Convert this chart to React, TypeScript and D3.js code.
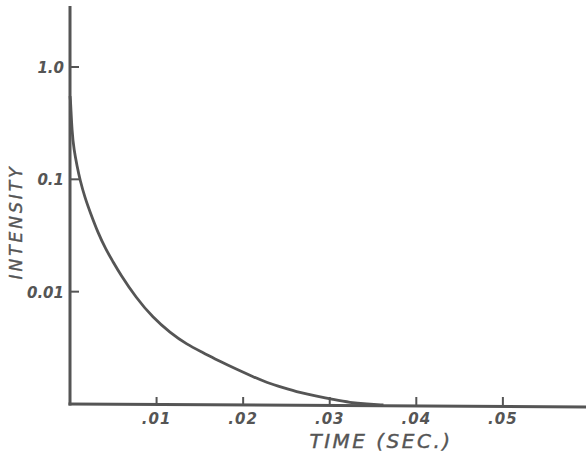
import React from "react";
import * as d3 from "d3";

const times = [0, 0.00006, 0.00023, 0.00046, 0.00081, 0.00115, 0.00173, 0.00231, 0.00323, 0.00416, 0.00497, 0.00577, 0.00762, 0.00958, 0.01155, 0.01351, 0.01536, 0.01732, 0.01928, 0.02113, 0.02275, 0.0246, 0.02656, 0.02852, 0.03037, 0.03233, 0.0343, 0.0362];
const intensities = [0.55, 0.509, 0.264, 0.183, 0.132, 0.099, 0.0685, 0.0514, 0.0334, 0.0236, 0.0185, 0.01445, 0.00885, 0.00587, 0.00432, 0.00338, 0.00287, 0.00239, 0.00203, 0.00175, 0.00155, 0.0014, 0.00126, 0.00117, 0.0011, 0.00103, 0.001, 0.00098];
const xTicks = [0.01, 0.02, 0.03, 0.04, 0.05];
const xTickLabels = [".01", ".02", ".03", ".04", ".05"];
const yTicks = [1, 0.1, 0.01];
const yTickLabels = ["1.0", "0.1", "0.01"];

const W = 586, H = 454;
const INK = "#555";
const FONT = "'DejaVu Sans', sans-serif";

export default function App() {
  const x = d3.scaleLinear().domain([0, 0.0596]).range([70, 586]);
  const y = d3.scaleLog().domain([0.001, 1]).range([404, 67]);
  const yTop = 6;
  const line = d3.line<number>()
    .x((_, i) => x(times[i]))
    .y((d) => y(d))
    .curve(d3.curveBasis);
  return (
    <svg width={W} height={H} style={{ position: "absolute", left: 0, top: 0, background: "#fff" }}>
      <line x1={x(0)} x2={x(0)} y1={yTop} y2={y(0.001) + 1.5} stroke={INK} strokeWidth={3} />
      <line x1={x(0) - 1.5} x2={W} y1={y(0.001)} y2={y(0.001) + 3} stroke={INK} strokeWidth={3} />
      {yTicks.map((t, i) => (
        <g key={i}>
          <line x1={x(0)} x2={x(0) + 9} y1={y(t)} y2={y(t)} stroke={INK} strokeWidth={2} />
          <text x={x(0) - 6} y={y(t) + 6} textAnchor="end" fontFamily={FONT} fontStyle="italic" fontWeight="bold" fontSize={15} fill={INK}>
            {yTickLabels[i]}
          </text>
        </g>
      ))}
      {xTicks.map((t, i) => (
        <g key={i}>
          <line x1={x(t)} x2={x(t)} y1={y(0.001) + 1} y2={y(0.001) - 7} stroke={INK} strokeWidth={2} />
          <text x={x(t)} y={424} textAnchor="middle" fontFamily={FONT} fontStyle="italic" fontWeight="bold" fontSize={15} fill={INK} letterSpacing={1}>
            {xTickLabels[i]}
          </text>
        </g>
      ))}
      <path d={line(intensities) || ""} fill="none" stroke={INK} strokeWidth={2.8} />
      <text x={381} y={448} textAnchor="middle" fontFamily={FONT} fontStyle="italic" fontSize={20} fill={INK} letterSpacing={2.5} stroke={INK} strokeWidth={0.4}>
        TIME (SEC.)
      </text>
      <text transform="translate(22,222) rotate(-90)" textAnchor="middle" fontFamily={FONT} fontStyle="italic" fontSize={17} fill={INK} letterSpacing={3} stroke={INK} strokeWidth={0.4}>
        INTENSITY
      </text>
    </svg>
  );
}
